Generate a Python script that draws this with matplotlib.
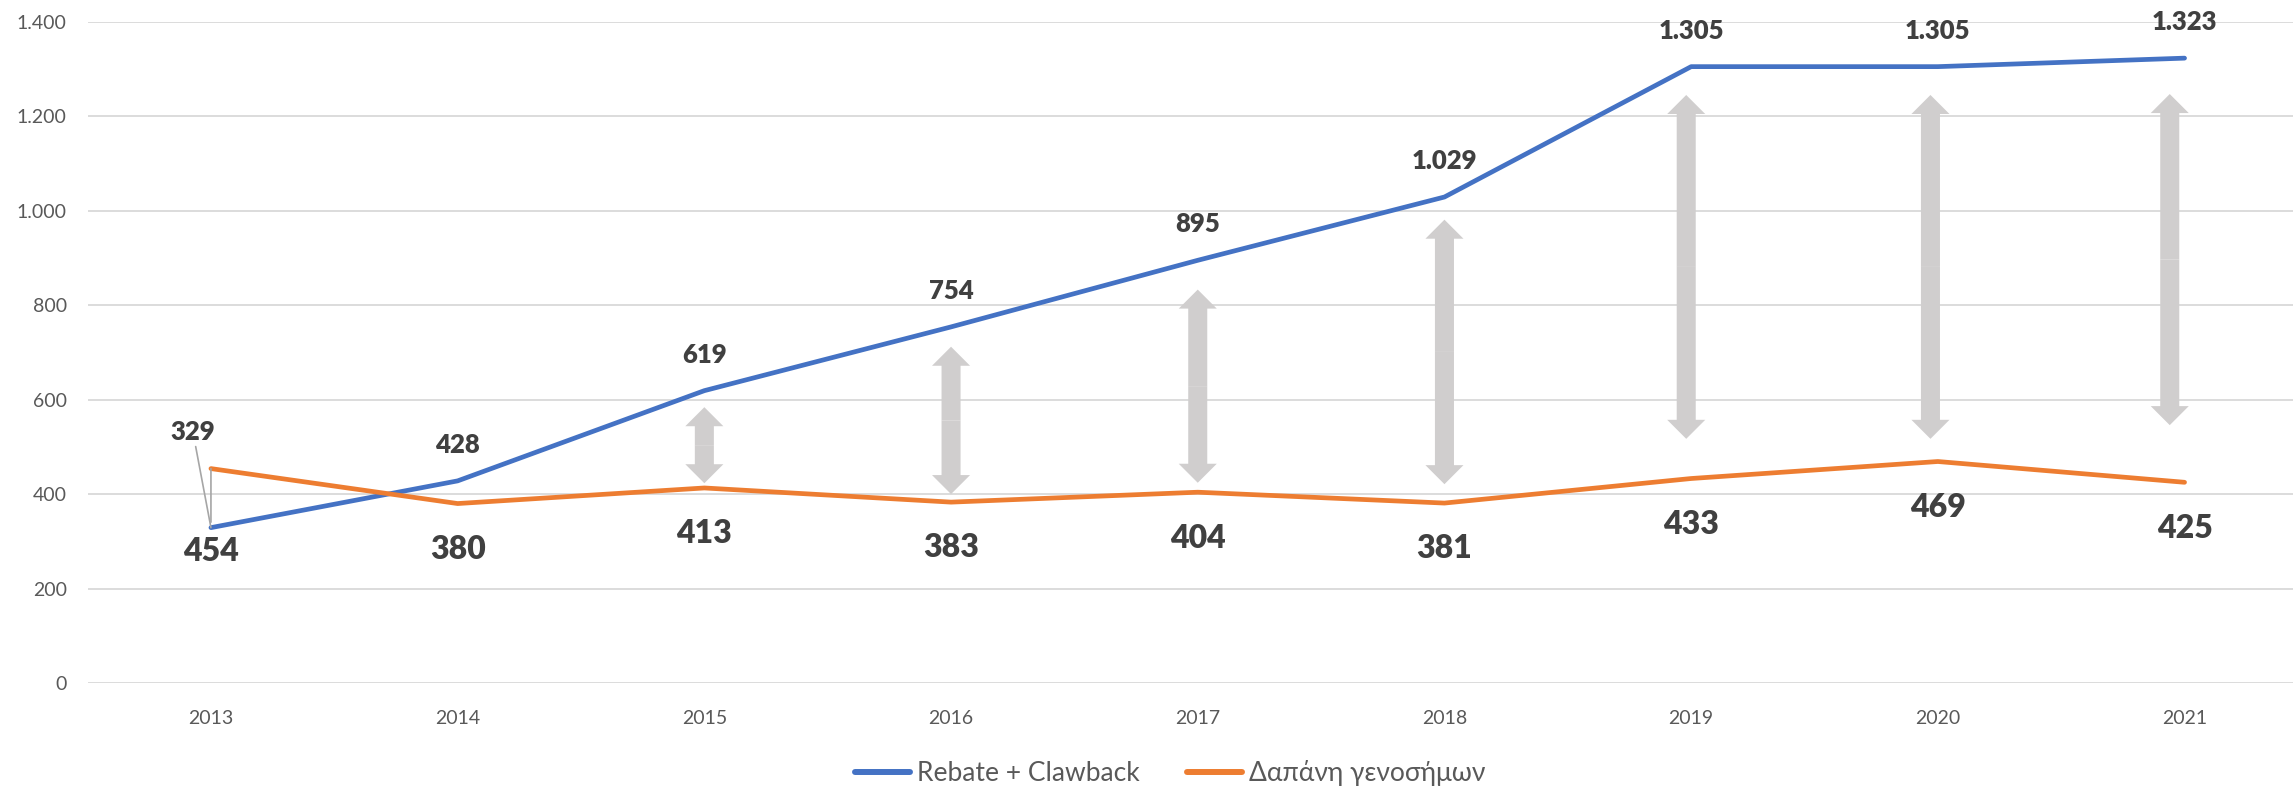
import matplotlib
matplotlib.use('Agg')
import matplotlib.pyplot as plt
from matplotlib.patches import FancyArrowPatch
from matplotlib.ticker import FuncFormatter

years = ['2013', '2014', '2015', '2016', '2017', '2018', '2019', '2020', '2021']
rebate_clawback = [329, 428, 619, 754, 895, 1029, 1305, 1305, 1323]
generics = [454, 380, 413, 383, 404, 381, 433, 469, 425]

# grey double arrows between the two lines (2015-2021)
arrow_pos = [2, 3, 4, 5, 5.98, 6.97, 7.94]
arrow_top = [584, 712, 833, 981, 1245, 1245, 1247]
arrow_bottom = [423, 400, 424, 421, 517, 517, 546]


def fmt(v):
    return f'{int(round(v)):,}'.replace(',', '.')


plt.rcParams['font.family'] = ['Lato', 'DejaVu Sans']

fig = plt.figure(figsize=(22.93, 7.86), dpi=100)
ax = fig.add_axes([0.0382, 0.1310, 0.9683, 0.8413])
x = list(range(len(years)))

ax.plot(x, rebate_clawback, color='#4472C4', lw=3.4, solid_capstyle='round',
        solid_joinstyle='round', label='Rebate + Clawback', zorder=3)
ax.plot(x, generics, color='#ED7D31', lw=3.4, solid_capstyle='round',
        solid_joinstyle='round', label='Δαπάνη γενοσήμων', zorder=3)

style = 'simple,head_length=13.7,head_width=27.4,tail_width=13.7'
for xi, lo, hi in zip(arrow_pos, arrow_bottom, arrow_top):
    mid = (lo + hi) / 2
    for end in (lo, hi):
        ax.add_patch(FancyArrowPatch((xi, mid), (xi, end), arrowstyle=style,
                                     mutation_scale=1, shrinkA=0, shrinkB=0,
                                     color='#D0CECE', lw=0, zorder=2))

lab = dict(ha='center', va='center', fontweight='heavy', color='#404040',
           textcoords='offset points')
for i in range(1, len(years)):
    ax.annotate(fmt(rebate_clawback[i]), (i, rebate_clawback[i]),
                xytext=(0, 26), fontsize=18.5, **lab)
    ax.annotate(fmt(generics[i]), (i, generics[i]),
                xytext=(0, -33), fontsize=23, **lab)

# 2013: labels moved away from the crossing, with leader lines
leader = dict(arrowstyle='-', color='#A6A6A6', lw=1.2, shrinkB=0)
ax.annotate(fmt(rebate_clawback[0]), (0, rebate_clawback[0]), xytext=(-13, 69),
            fontsize=18.5, arrowprops=dict(leader, shrinkA=0), **lab)
ax.annotate(fmt(generics[0]), (0, generics[0]), xytext=(0, -60),
            fontsize=23, arrowprops=dict(leader, shrinkA=9), **lab)

ax.set_xlim(-0.5, 8.5)
ax.set_ylim(0, 1400)
ax.set_xticks(x, years)
ax.set_yticks(range(0, 1401, 200))
ax.yaxis.set_major_formatter(FuncFormatter(lambda v, p: fmt(v)))
ax.yaxis.grid(True, color='#D9D9D9', lw=1.3)
ax.set_axisbelow(True)
for s in ax.spines.values():
    s.set_visible(False)
ax.tick_params(axis='both', length=0, labelsize=14, labelcolor='#595959')
ax.tick_params(axis='x', pad=19.5)
ax.tick_params(axis='y', pad=15)

leg = fig.legend(loc='center', bbox_to_anchor=(0.5103, 0.0165), ncol=2,
                 frameon=False, fontsize=19, handlelength=2.1,
                 handletextpad=0.25, columnspacing=1.8, labelcolor='#595959')
for h in leg.legend_handles:
    h.set_linewidth(4.3)

fig.savefig('out.png', dpi=100)
